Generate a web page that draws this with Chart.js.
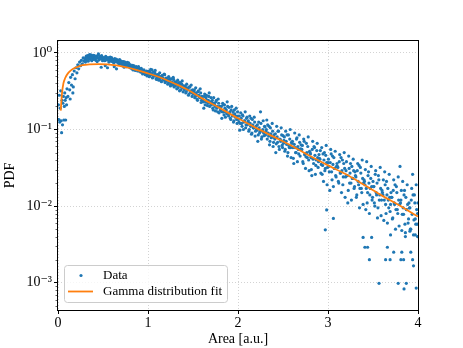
<!DOCTYPE html>
<html lang="en">
<head>
<meta charset="UTF-8">
<script src="https://cdn.jsdelivr.net/npm/chart.js@4.4.0/dist/chart.umd.min.js"></script>
<style>
  body { margin: 0; background: #fff; }
</style>
</head>
<body>
<canvas id="chart" width="463" height="348"></canvas>
<script>
// measured histogram points [area, pdf]
const dataRise = [
  [0.005,0.21],[0.01,0.135],[0.015,0.28],[0.02,0.125],[0.025,0.19],[0.03,0.32],[0.035,0.13],[0.04,0.091],
  [0.045,0.24],[0.05,0.115],[0.055,0.22],[0.06,0.27],[0.065,0.133],[0.07,0.2],[0.075,0.3],[0.08,0.24],
  [0.085,0.133],[0.09,0.26],[0.095,0.21],[0.10,0.34],[0.11,0.27],[0.12,0.41],[0.13,0.33],[0.135,0.25],
  [0.14,0.48],[0.15,0.38],[0.16,0.52],[0.165,0.3],[0.17,0.36],[0.18,0.58],[0.19,0.46],[0.20,0.64],
  [0.21,0.55],[0.22,0.70],[0.23,0.62],[0.24,0.76],[0.25,0.68],[0.26,0.80],[0.27,0.72],[0.28,0.86],
  [0.29,0.78],[0.30,0.83]
];
const dataPeak = [
  [0.31,0.88],[0.32,0.80],[0.33,0.92],[0.34,0.85],[0.35,0.95],[0.36,0.82],[0.37,0.90],[0.38,0.87],[0.39,0.93],[0.40,0.84],
  [0.41,0.89],[0.42,0.80],[0.43,0.91],[0.44,0.86],[0.45,0.97],[0.46,0.83],[0.47,0.90],[0.48,0.65],[0.49,0.88],[0.50,0.84],
  [0.51,0.87],[0.52,0.79],[0.53,0.90],[0.54,0.84],[0.55,0.64],[0.56,0.86],[0.57,0.80],[0.58,0.88],[0.59,0.78],[0.60,0.83],
  [0.61,0.80],[0.62,0.74],[0.63,0.84],[0.64,0.77],[0.65,0.62],[0.66,0.81],[0.67,0.75],[0.68,0.79],[0.69,0.72],[0.70,0.78],
  [0.71,0.74],[0.72,0.68],[0.73,0.77],[0.74,0.70],[0.75,0.73],[0.76,0.66],[0.77,0.75],[0.78,0.69],[0.79,0.71],[0.80,0.64],
  [0.81,0.67],[0.82,0.62],[0.83,0.69],[0.84,0.63],[0.85,0.65],[0.86,0.59],[0.87,0.66],[0.88,0.61],[0.89,0.64],[0.90,0.58],
  [0.91,0.62],[0.92,0.56],[0.93,0.60],[0.94,0.53],[0.95,0.58],[0.96,0.55],[0.97,0.52],[0.98,0.57],[0.99,0.50],[1.00,0.55]
];
const dataMid = [
  [1.01,0.58],[1.02,0.50],[1.03,0.61],[1.04,0.53],[1.05,0.47],[1.06,0.56],[1.07,0.51],[1.08,0.59],[1.09,0.46],[1.10,0.52],
  [1.11,0.50],[1.12,0.44],[1.13,0.55],[1.14,0.47],[1.15,0.42],[1.16,0.51],[1.17,0.46],[1.18,0.53],[1.19,0.41],[1.20,0.47],
  [1.21,0.45],[1.22,0.39],[1.23,0.49],[1.24,0.42],[1.25,0.37],[1.26,0.46],[1.27,0.41],[1.28,0.48],[1.29,0.36],[1.30,0.42],
  [1.31,0.40],[1.32,0.34],[1.33,0.44],[1.34,0.37],[1.35,0.32],[1.36,0.41],[1.37,0.36],[1.38,0.43],[1.39,0.31],[1.40,0.36],
  [1.41,0.35],[1.42,0.30],[1.43,0.39],[1.44,0.33],[1.45,0.28],[1.46,0.36],[1.47,0.31],[1.48,0.38],[1.49,0.27],[1.50,0.32],
  [1.51,0.31],[1.52,0.26],[1.53,0.35],[1.54,0.28],[1.55,0.24],[1.56,0.32],[1.57,0.27],[1.58,0.34],[1.59,0.225],[1.60,0.27],
  [1.61,0.235],[1.62,0.19],[1.63,0.29],[1.64,0.23],[1.65,0.28],[1.66,0.205],[1.67,0.24],[1.68,0.30],[1.69,0.22],[1.70,0.26],
  [1.71,0.225],[1.72,0.19],[1.73,0.26],[1.74,0.21],[1.75,0.175],[1.76,0.24],[1.77,0.20],[1.78,0.25],[1.79,0.165],[1.80,0.20],
  [1.81,0.175],[1.82,0.14],[1.83,0.22],[1.84,0.17],[1.85,0.21],[1.86,0.145],[1.87,0.18],[1.88,0.23],[1.89,0.16],[1.90,0.195],
  [1.91,0.17],[1.92,0.135],[1.93,0.20],[1.94,0.155],[1.95,0.125],[1.96,0.18],[1.97,0.145],[1.98,0.19],[1.99,0.12],[2.00,0.15],
  [2.01,0.125],[2.02,0.098],[2.03,0.165],[2.04,0.12],[2.05,0.155],[2.06,0.10],[2.07,0.13],[2.08,0.17],[2.09,0.115],[2.10,0.145],
  [2.11,0.125],[2.12,0.095],[2.13,0.15],[2.14,0.11],[2.15,0.087],[2.16,0.135],[2.17,0.105],[2.18,0.145],[2.19,0.082],[2.20,0.11],
  [2.21,0.098],[2.22,0.07],[2.23,0.125],[2.24,0.09],[2.25,0.17],[2.26,0.075],[2.27,0.095],[2.28,0.13],[2.29,0.083],[2.30,0.108],
  [2.31,0.095],[2.32,0.133],[2.33,0.115],[2.34,0.082],[2.35,0.063],[2.36,0.105],[2.37,0.078],[2.38,0.12],[2.39,0.06],[2.40,0.085],
  [2.41,0.075],[2.42,0.05],[2.43,0.11],[2.44,0.068],[2.45,0.095],[2.46,0.055],[2.47,0.074],[2.48,0.105],[2.49,0.062],[2.50,0.083]
];
const dataTail = [
  [2.51,0.072],[2.52,0.052],[2.53,0.095],[2.54,0.064],[2.55,0.045],[2.56,0.085],[2.57,0.058],[2.58,0.10],[2.59,0.043],[2.60,0.066],
  [2.61,0.058],[2.62,0.036],[2.63,0.09],[2.64,0.05],[2.65,0.075],[2.66,0.038],[2.67,0.055],[2.68,0.085],[2.69,0.045],[2.70,0.063],
  [2.71,0.055],[2.72,0.038],[2.73,0.075],[2.74,0.047],[2.75,0.031],[2.76,0.066],[2.77,0.043],[2.78,0.08],[2.79,0.029],[2.80,0.05],
  [2.81,0.043],[2.82,0.025],[2.83,0.07],[2.84,0.036],[2.85,0.058],[2.86,0.026],[2.87,0.040],[2.88,0.066],[2.89,0.032],[2.90,0.047],
  [2.91,0.041],[2.92,0.027],[2.93,0.058],[2.94,0.034],[2.95,0.021],[2.96,0.05],[2.97,0.031],[2.98,0.062],[2.99,0.019],[3.00,0.037],
  [3.01,0.033],[3.02,0.016],[3.03,0.055],[3.04,0.028],[3.05,0.045],[3.06,0.018],[3.07,0.031],[3.08,0.052],[3.09,0.024],[3.10,0.036],
  [3.11,0.032],[3.12,0.02],[3.13,0.047],[3.14,0.027],[3.15,0.015],[3.16,0.04],[3.17,0.024],[3.18,0.05],[3.19,0.013],[3.20,0.029],
  [3.21,0.025],[3.22,0.011],[3.23,0.045],[3.24,0.02],[3.25,0.036],[3.26,0.012],[3.27,0.023],[3.28,0.041],[3.29,0.017],[3.30,0.028],
  [3.31,0.024],[3.32,0.014],[3.33,0.036],[3.34,0.019],[3.35,0.0095],[3.36,0.032],[3.37,0.017],[3.38,0.04],[3.39,0.0105],[3.40,0.022],
  [3.41,0.019],[3.42,0.009],[3.43,0.038],[3.44,0.015],[3.45,0.028],[3.46,0.008],[3.47,0.017],[3.48,0.033],[3.49,0.012],[3.50,0.021],
  [3.51,0.018],[3.52,0.01],[3.53,0.029],[3.54,0.014],[3.55,0.007],[3.56,0.025],[3.57,0.012],[3.58,0.032],[3.59,0.0075],[3.60,0.016],
  [3.61,0.014],[3.62,0.0065],[3.63,0.028],[3.64,0.0105],[3.65,0.021],[3.66,0.006],[3.67,0.012],[3.68,0.026],[3.69,0.0085],[3.70,0.015],
  [3.71,0.013],[3.72,0.007],[3.73,0.022],[3.74,0.0105],[3.75,0.005],[3.76,0.018],[3.77,0.009],[3.78,0.024],[3.79,0.0055],[3.80,0.033],
  [3.81,0.012],[3.82,0.0048],[3.83,0.021],[3.84,0.0078],[3.85,0.016],[3.86,0.0045],[3.87,0.009],[3.88,0.019],[3.89,0.006],[3.90,0.011],
  [3.91,0.0095],[3.92,0.005],[3.93,0.017],[3.94,0.026],[3.95,0.0042],[3.96,0.014],[3.97,0.0068],[3.98,0.019],[3.99,0.0058],[4.00,0.011]
];
// in-between bins
const dataFillPeak = [
  [0.305,0.76],[0.315,0.91],[0.325,0.86],[0.335,0.78],[0.345,0.89],[0.355,0.84],[0.365,0.94],[0.375,0.79],[0.385,0.88],[0.395,0.82],
  [0.405,0.92],[0.415,0.85],[0.425,0.87],[0.435,0.77],[0.445,0.93],[0.455,0.81],[0.465,0.86],[0.475,0.84],[0.485,0.92],[0.495,0.79],
  [0.505,0.85],[0.515,0.83],[0.525,0.68],[0.535,0.88],[0.545,0.81],[0.555,0.86],[0.565,0.76],[0.575,0.84],[0.585,0.82],[0.595,0.87],
  [0.605,0.77],[0.615,0.82],[0.625,0.66],[0.635,0.79],[0.645,0.83],[0.655,0.76],[0.665,0.78],[0.675,0.72],[0.685,0.82],[0.695,0.75],
  [0.705,0.71],[0.715,0.77],[0.725,0.73],[0.735,0.65],[0.745,0.76],[0.755,0.71],[0.765,0.72],[0.775,0.67],[0.785,0.74],[0.795,0.68],
  [0.805,0.70],[0.815,0.65],[0.825,0.66],[0.835,0.60],[0.845,0.68],[0.855,0.63],[0.865,0.62],[0.875,0.64],[0.885,0.58],[0.895,0.66],
  [0.905,0.60],[0.915,0.59],[0.925,0.63],[0.935,0.57],[0.945,0.55],[0.955,0.60],[0.965,0.56],[0.975,0.54],[0.985,0.58],[0.995,0.53]
];
const dataFillMid = [
  [1.005,0.53],[1.015,0.49],[1.025,0.56],[1.035,0.52],[1.045,0.60],[1.055,0.48],[1.065,0.51],[1.075,0.55],[1.085,0.50],[1.095,0.45],
  [1.105,0.48],[1.115,0.52],[1.125,0.45],[1.135,0.49],[1.145,0.43],[1.155,0.50],[1.165,0.47],[1.175,0.44],[1.185,0.52],[1.195,0.43],
  [1.205,0.43],[1.215,0.47],[1.225,0.40],[1.235,0.44],[1.245,0.46],[1.255,0.39],[1.265,0.42],[1.275,0.38],[1.285,0.45],[1.295,0.40],
  [1.305,0.37],[1.315,0.42],[1.325,0.39],[1.335,0.35],[1.345,0.41],[1.355,0.38],[1.365,0.33],[1.375,0.39],[1.385,0.35],[1.395,0.37],
  [1.405,0.33],[1.415,0.37],[1.425,0.31],[1.435,0.35],[1.445,0.34],[1.455,0.29],[1.465,0.36],[1.475,0.32],[1.485,0.30],[1.495,0.33],
  [1.505,0.29],[1.515,0.33],[1.525,0.27],[1.535,0.30],[1.545,0.25],[1.555,0.31],[1.565,0.28],[1.575,0.26],[1.585,0.30],[1.595,0.24],
  [1.605,0.25],[1.615,0.23],[1.625,0.27],[1.635,0.21],[1.645,0.26],[1.655,0.24],[1.665,0.22],[1.675,0.27],[1.685,0.20],[1.695,0.23],
  [1.705,0.21],[1.715,0.24],[1.725,0.18],[1.735,0.22],[1.745,0.20],[1.755,0.23],[1.765,0.19],[1.775,0.17],[1.785,0.22],[1.795,0.20],
  [1.805,0.18],[1.815,0.20],[1.825,0.17],[1.835,0.21],[1.845,0.155],[1.855,0.19],[1.865,0.17],[1.875,0.16],[1.885,0.20],[1.895,0.15],
  [1.905,0.16],[1.915,0.14],[1.925,0.18],[1.935,0.15],[1.945,0.17],[1.955,0.13],[1.965,0.16],[1.975,0.15],[1.985,0.135],[1.995,0.17],
  [2.005,0.135],[2.015,0.15],[2.025,0.12],[2.035,0.14],[2.045,0.11],[2.055,0.15],[2.065,0.125],[2.075,0.13],[2.085,0.105],[2.095,0.14],
  [2.105,0.115],[2.115,0.13],[2.125,0.10],[2.135,0.12],[2.145,0.14],[2.155,0.09],[2.165,0.115],[2.175,0.105],[2.185,0.125],[2.195,0.095],
  [2.205,0.10],[2.215,0.115],[2.225,0.085],[2.235,0.105],[2.245,0.095],[2.255,0.12],[2.265,0.08],[2.275,0.10],[2.285,0.09],[2.295,0.11],
  [2.305,0.085],[2.315,0.10],[2.325,0.075],[2.335,0.09],[2.345,0.11],[2.355,0.07],[2.365,0.088],[2.375,0.08],[2.385,0.095],[2.395,0.068],
  [2.405,0.078],[2.415,0.088],[2.425,0.065],[2.435,0.08],[2.445,0.095],[2.455,0.06],[2.465,0.075],[2.475,0.07],[2.485,0.085],[2.495,0.058]
];
const dataFillTail = [
  [2.505,0.066],[2.515,0.08],[2.525,0.055],[2.535,0.07],[2.545,0.085],[2.555,0.05],[2.565,0.062],[2.575,0.075],[2.585,0.058],[2.595,0.068],
  [2.605,0.07],[2.615,0.042],[2.625,0.064],[2.635,0.058],[2.645,0.05],[2.655,0.078],[2.665,0.06],[2.675,0.048],[2.685,0.068],[2.695,0.056],
  [2.705,0.055],[2.715,0.062],[2.725,0.036],[2.735,0.07],[2.745,0.048],[2.755,0.044],[2.765,0.05],[2.775,0.06],[2.785,0.04],[2.795,0.052],
  [2.805,0.048],[2.815,0.03],[2.825,0.055],[2.835,0.041],[2.845,0.06],[2.855,0.046],[2.865,0.034],[2.875,0.053],[2.885,0.043],[2.895,0.038],
  [2.905,0.042],[2.915,0.053],[2.925,0.035],[2.935,0.026],[2.945,0.048],[2.955,0.04],[2.965,0.029],[2.975,0.046],[2.985,0.037],[2.995,0.032],
  [3.005,0.041],[3.015,0.028],[3.025,0.037],[3.035,0.048],[3.045,0.022],[3.055,0.035],[3.065,0.043],[3.075,0.031],[3.085,0.025],[3.095,0.033],
  [3.105,0.033],[3.115,0.021],[3.125,0.038],[3.135,0.027],[3.145,0.043],[3.155,0.029],[3.165,0.019],[3.175,0.036],[3.185,0.031],[3.195,0.024],
  [3.205,0.038],[3.215,0.025],[3.225,0.016],[3.235,0.031],[3.245,0.027],[3.255,0.02],[3.265,0.033],[3.275,0.023],[3.285,0.029],[3.295,0.018],
  [3.305,0.025],[3.315,0.013],[3.325,0.029],[3.335,0.021],[3.345,0.034],[3.355,0.017],[3.365,0.027],[3.375,0.015],[3.385,0.023],[3.395,0.02],
  [3.405,0.021],[3.415,0.03],[3.425,0.017],[3.435,0.011],[3.445,0.025],[3.455,0.02],[3.465,0.014],[3.475,0.023],[3.485,0.018],[3.495,0.013],
  [3.505,0.018],[3.515,0.011],[3.525,0.026],[3.535,0.015],[3.545,0.02],[3.555,0.0095],[3.565,0.022],[3.575,0.014],[3.585,0.017],[3.595,0.012],
  [3.605,0.015],[3.615,0.022],[3.625,0.012],[3.635,0.019],[3.645,0.008],[3.655,0.014],[3.665,0.017],[3.675,0.0095],[3.685,0.013],[3.695,0.0105],
  [3.705,0.013],[3.715,0.0068],[3.725,0.016],[3.735,0.011],[3.745,0.019],[3.755,0.009],[3.765,0.015],[3.775,0.008],[3.785,0.012],[3.795,0.0105],
  [3.805,0.011],[3.815,0.016],[3.825,0.0078],[3.835,0.0095],[3.845,0.014],[3.855,0.0058],[3.865,0.013],[3.875,0.009],[3.885,0.0105],[3.895,0.0068],
  [3.905,0.0095],[3.915,0.005],[3.925,0.012],[3.935,0.0078],[3.945,0.014],[3.955,0.0066],[3.965,0.011],[3.975,0.0058],[3.985,0.009],[3.995,0.008]
];
const dataOutliers = [
  [2.97,0.0049],[2.985,0.0089],[3.06,0.0069],[3.39,0.0039],[3.485,0.0039],[3.41,0.0029],[3.44,0.0029],
  [3.46,0.002],[3.567,0.00098],[3.66,0.0029],[3.64,0.002],[3.69,0.002],[3.695,0.0042],[3.73,0.0025],
  [3.82,0.0025],[3.81,0.002],[3.84,0.002],[3.78,0.00098],[3.87,0.00098],[3.845,0.00083],[3.92,0.0025],
  [3.94,0.002],[3.95,0.00166],[3.86,0.004],[3.98,0.00085],[3.91,0.0047],[3.97,0.0042],[3.995,0.004]
];

// gamma fit curve
const fitX = [0.03,0.045,0.06,0.08,0.11,0.15,0.2,0.27,0.35,0.45,0.55,0.65,0.75,0.85,1.0,1.15,1.3,1.45,1.6,1.8,
              2.0,2.2,2.4,2.6,2.8,3.0,3.2,3.4,3.6,3.8,4.0];
const fitY = [0.176,0.30,0.40,0.47,0.54,0.60,0.645,0.69,0.71,0.715,0.71,0.685,0.65,0.61,0.54,0.47,0.395,0.325,0.255,0.19,
              0.14,0.105,0.08,0.061,0.045,0.034,0.026,0.019,0.0137,0.0101,0.0073];

const xTicks = [0, 1, 2, 3, 4];
const yTicks = [0.001, 0.01, 0.1, 1];
const yTickLabels = ['10\u207B\u00B3', '10\u207B\u00B2', '10\u207B\u00B9', '10\u2070'];
const legendLabels = ['Data', 'Gamma distribution fit'];

const blue = '#1f77b4';
const orange = '#ff7f0e';
const font = "'Liberation Serif', 'DejaVu Serif', serif";

const allPoints = dataRise.concat(dataPeak, dataMid, dataTail, dataFillPeak, dataFillMid, dataFillTail, dataOutliers)
  .map(p => ({ x: p[0], y: p[1] }));
const fitPoints = fitX.map((x, i) => ({ x: x, y: fitY[i] }));

// frame, minor log ticks and the legend box
const extras = {
  id: 'extras',
  afterDatasetsDraw(chart) {
    const { ctx, chartArea: a } = chart;
    const ys = chart.scales.y;
    ctx.save();
    ctx.strokeStyle = '#000';
    ctx.lineWidth = 1;
    ctx.strokeRect(a.left - 0.5, a.top - 0.5, a.right - a.left + 1, a.bottom - a.top + 1);
    // minor ticks
    ctx.lineWidth = 0.6;
    for (let e = -4; e <= 0; e++) {
      for (let m = 2; m <= 9; m++) {
        const v = m * Math.pow(10, e);
        if (v < ys.min || v > ys.max) continue;
        const py = Math.round(ys.getPixelForValue(v)) + 0.5;
        ctx.beginPath();
        ctx.moveTo(a.left - 2.5, py);
        ctx.lineTo(a.left, py);
        ctx.stroke();
      }
    }
    // legend
    const lx = 64.5, ly = 265.5, lw = 163, lh = 37, r = 3;
    ctx.beginPath();
    ctx.moveTo(lx + r, ly);
    ctx.arcTo(lx + lw, ly, lx + lw, ly + lh, r);
    ctx.arcTo(lx + lw, ly + lh, lx, ly + lh, r);
    ctx.arcTo(lx, ly + lh, lx, ly, r);
    ctx.arcTo(lx, ly, lx + lw, ly, r);
    ctx.closePath();
    ctx.fillStyle = 'rgba(255,255,255,0.8)';
    ctx.fill();
    ctx.strokeStyle = '#cccccc';
    ctx.lineWidth = 1;
    ctx.stroke();
    ctx.fillStyle = blue;
    ctx.beginPath();
    ctx.arc(81, 275.5, 1.6, 0, Math.PI * 2);
    ctx.fill();
    ctx.strokeStyle = orange;
    ctx.lineWidth = 1.8;
    ctx.beginPath();
    ctx.moveTo(68, 291.5);
    ctx.lineTo(93, 291.5);
    ctx.stroke();
    ctx.fillStyle = '#000';
    ctx.font = '13px ' + font;
    ctx.textBaseline = 'middle';
    ctx.fillText(legendLabels[0], 103, 276);
    ctx.fillText(legendLabels[1], 103, 292);
    ctx.restore();
  }
};

const ctx = document.getElementById('chart').getContext('2d');
new Chart(ctx, {
  type: 'scatter',
  data: {
    datasets: [
      {
        type: 'line',
        label: legendLabels[1],
        data: fitPoints,
        borderColor: orange,
        borderWidth: 1.8,
        pointRadius: 0,
        cubicInterpolationMode: 'monotone',
        order: 0
      },
      {
        label: legendLabels[0],
        data: allPoints,
        backgroundColor: blue,
        borderWidth: 0,
        pointRadius: 1.6,
        order: 1
      }
    ]
  },
  options: {
    responsive: false,
    animation: false,
    layout: { padding: { left: 0, right: 45, top: 41, bottom: 0 } },
    plugins: { legend: { display: false }, tooltip: { enabled: false } },
    scales: {
      x: {
        type: 'linear',
        min: 0,
        max: 4,
        afterBuildTicks: s => { s.ticks = xTicks.map(v => ({ value: v })); },
        afterFit: s => { s.height = 38; },
        ticks: { color: '#000', font: { family: font, size: 14 }, padding: 1, maxRotation: 0 },
        grid: { color: '#c8c8c8', lineWidth: 0.8, tickColor: '#000', tickLength: 4, tickWidth: 1 },
        border: { display: false, dash: [1, 2] },
        title: { display: true, text: 'Area [a.u.]', color: '#000', font: { family: font, size: 14 }, padding: { top: 0, bottom: 0 } }
      },
      y: {
        type: 'logarithmic',
        min: 0.00044,
        max: 1.43,
        afterBuildTicks: s => { s.ticks = yTicks.map(v => ({ value: v })); },
        afterFit: s => { s.width = 58; },
        ticks: {
          color: '#000',
          font: { family: font, size: 14 },
          padding: 2,
          callback: (v) => { const i = yTicks.indexOf(v); return i >= 0 ? yTickLabels[i] : ''; }
        },
        grid: { color: '#c8c8c8', lineWidth: 0.8, tickColor: '#000', tickLength: 4, tickWidth: 1 },
        border: { display: false, dash: [1, 2] },
        title: { display: true, text: 'PDF', color: '#000', font: { family: font, size: 14 }, padding: { top: 2, bottom: 0 } }
      }
    }
  },
  plugins: [extras]
});
</script>
</body>
</html>
